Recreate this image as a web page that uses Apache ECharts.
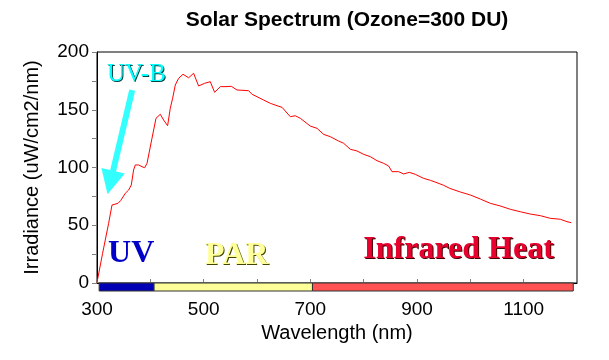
<!DOCTYPE html>
<html>
<head>
<meta charset="utf-8">
<script src="https://cdn.jsdelivr.net/npm/echarts@6/dist/echarts.min.js"></script>
<style>html,body{margin:0;padding:0;background:#fff}#c{width:609px;height:360px}</style>
</head>
<body>
<div id="c"></div>
<script>
// Wavelength (nm) and irradiance (uW/cm2/nm)
var wavelengths = [300,310.5,321.8,328.1,331.1,339.4,344.3,353.1,359.3,364.3,368.6,371.8,378,384.4,389.3,393.8,403.1,410.6,418.7,424.9,432.4,437.4,441.8,446.8,453,461.3,471.8,481.1,490.5,501.8,512.4,520.5,531.2,541.9,551.8,562.5,584.3,590.6,600,612.4,624.9,637.5,646.9,662.4,671.8,681.2,699.9,712.5,724.9,737.4,753,762.4,774.9,787.5,799.9,812.4,825,837.4,846.8,853.1,865.5,874.9,885.6,896.8,912.4,925,937.5,949.9,961.1,981.2,1000,1018.7,1037.4,1056.2,1075,1093.7,1112.4,1131.2,1149.9,1168.7,1181.2,1189.3];
var irradiance = [0.5,25.7,51.7,67.5,68.7,69,71.3,77.7,80.5,84.8,97.8,102.2,102.2,100.7,99.8,103.6,125.3,142.6,146.1,141.1,136.2,151.3,159.9,171.4,177.2,180.7,177.7,181.6,170.6,172.9,174.3,165.1,170,170,170.3,167.1,166.5,163.4,161.3,158.4,155.6,153.5,152.1,144,144.8,142.6,135.9,133.9,128.7,126.7,122.9,121,115.8,114.3,111.4,109.4,105.9,103.6,101.3,96.4,96.4,94.4,95.8,94.1,90.6,88.9,86.8,84.6,82,78.8,76.2,72.7,69,66.7,63.8,61.7,59.7,58.3,56,55.2,53.1,52.2];

// Spectral bands under the axis
var bandNames = ['UV', 'PAR', 'Infrared'];
var bandStart = [304, 407, 704];
var bandEnd = [407, 704, 1193];
var bandColors = ['#0000B4', '#FFFF99', '#FF5252'];

// Text annotations (data coordinates)
var noteTexts = ['UV-B', 'UV', 'PAR', 'Infrared Heat'];
var noteX = [374, 364, 562, 978];
var noteY = [180.5, 25, 24, 28.6];

// UV-B arrow (data coordinates): from -> to
var arrowFrom = [366, 167];
var arrowTo = [325, 87];

var xTicks = [300, 500, 700, 900, 1100];
var yTicks = [0, 50, 100, 150, 200];

var chart = echarts.init(document.getElementById('c'));
var sans = '"Liberation Sans", Arial, sans-serif';
var serif = '"Liberation Serif", "Times New Roman", serif';

var noteStyles = [
  {color: '#00FFFF', fontSize: 25, fontWeight: 'normal', textShadowColor: '#004444', textShadowOffsetX: 1, textShadowOffsetY: 1, textShadowBlur: 0.5},
  {color: '#0000C8', fontSize: 32, fontWeight: 'bold'},
  {color: '#FFFF99', fontSize: 32, fontWeight: 'bold', textShadowColor: '#444400', textShadowOffsetX: 1, textShadowOffsetY: 1, textShadowBlur: 0.5},
  {color: '#E8002E', fontSize: 32, fontWeight: 'bold', textShadowColor: '#440000', textShadowOffsetX: 1, textShadowOffsetY: 1, textShadowBlur: 0.5}
];

var noteData = noteTexts.map(function (t, i) {
  var st = Object.assign({show: true, position: 'inside', formatter: t, fontFamily: serif, opacity: 1}, noteStyles[i]);
  return {value: [noteX[i], noteY[i]], label: st};
});

var bandData = bandNames.map(function (n, i) { return [bandStart[i], bandEnd[i], i]; });

chart.setOption({
  animation: false,
  backgroundColor: '#fff',
  title: {
    text: 'Solar Spectrum (Ozone=300 DU)',
    left: 342, textAlign: 'center', top: 5,
    textStyle: {fontFamily: sans, fontSize: 21, fontWeight: 'bold', color: '#000'}
  },
  grid: {left: 97, right: 32, top: 52, bottom: 77, show: true, borderColor: '#000', borderWidth: 1, backgroundColor: 'transparent'},
  xAxis: {
    type: 'value', min: 300, max: 1200, interval: 100,
    name: 'Wavelength (nm)', nameLocation: 'middle', nameGap: 39,
    nameTextStyle: {fontFamily: sans, fontSize: 20, color: '#000'},
    axisLine: {show: true, lineStyle: {color: '#000', width: 1}},
    axisTick: {show: true, inside: true, length: 4, lineStyle: {color: '#808080'}},
    axisLabel: {
      margin: 17, fontFamily: sans, fontSize: 19, color: '#000',
      formatter: function (v) { return xTicks.indexOf(v) >= 0 ? String(v) : ''; }
    },
    splitLine: {show: false}
  },
  yAxis: {
    type: 'value', min: 0, max: 200, interval: 25,
    name: 'Irradiance (uW/cm2/nm)', nameLocation: 'middle', nameGap: 55, nameRotate: 90,
    nameTextStyle: {fontFamily: sans, fontSize: 20, color: '#000'},
    axisLine: {show: true, lineStyle: {color: '#000', width: 1}},
    axisTick: {show: true, inside: false, length: 5, lineStyle: {color: '#808080'}},
    axisLabel: {
      margin: 8, fontFamily: sans, fontSize: 19, color: '#000',
      formatter: function (v) { return yTicks.indexOf(v) >= 0 ? String(v) : ''; }
    },
    splitLine: {show: false}
  },
  series: [
    {
      type: 'line',
      data: wavelengths.map(function (w, i) { return [w, irradiance[i]]; }),
      symbol: 'none',
      lineStyle: {color: '#FF0000', width: 1},
      z: 3
    },
    {
      type: 'custom',
      data: bandData,
      clip: false,
      renderItem: function (params, api) {
        var a = api.coord([api.value(0), 0]);
        var b = api.coord([api.value(1), 0]);
        return {
          type: 'rect',
          shape: {x: a[0], y: a[1], width: b[0] - a[0], height: 8},
          style: {fill: bandColors[api.value(2)], stroke: '#333', lineWidth: 1}
        };
      },
      z: 4
    },
    {
      type: 'lines',
      coordinateSystem: 'cartesian2d',
      data: [{coords: [arrowFrom, arrowTo]}],
      symbol: ['none', 'triangle'],
      symbolSize: [15, 24],
      lineStyle: {color: '#33FFFF', width: 6, opacity: 1},
      itemStyle: {color: '#33FFFF'},
      z: 5
    },
    {
      type: 'scatter',
      data: noteData,
      symbolSize: 0,
      itemStyle: {opacity: 1},
      z: 6
    }
  ]
});
</script>
</body>
</html>
